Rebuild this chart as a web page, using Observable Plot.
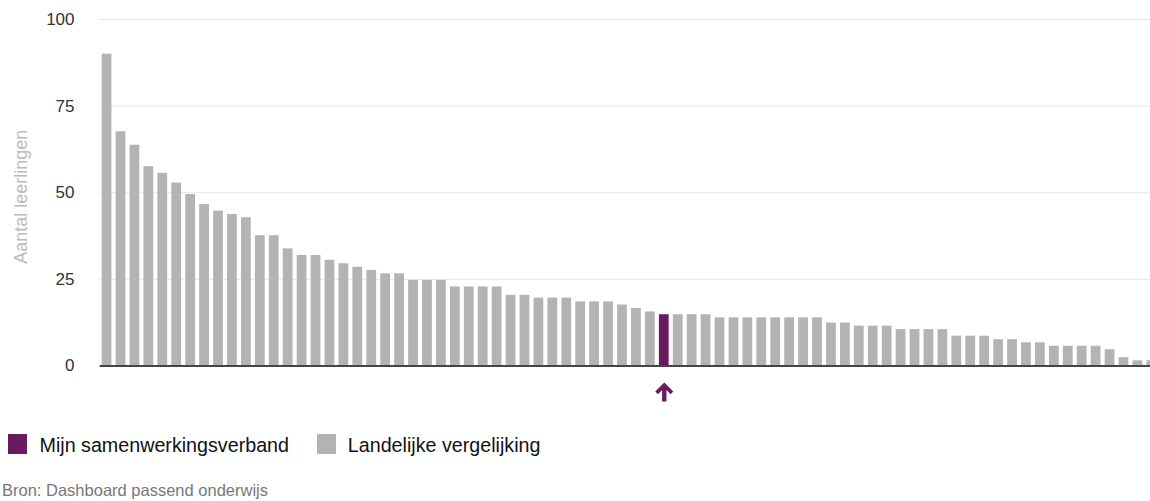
<!DOCTYPE html>
<html>
<head>
<meta charset="utf-8">
<script src="https://cdn.jsdelivr.net/npm/d3@7"></script>
<script src="https://cdn.jsdelivr.net/npm/@observablehq/plot@0.6"></script>
<style>
  html, body { margin: 0; padding: 0; width: 1150px; height: 501px; overflow: hidden; background: #fff; }
  #wrap { position: relative; width: 1150px; height: 501px; font-family: "Liberation Sans", Arial, sans-serif; }
  #chart { position: absolute; left: 0; top: 0; }
  #chart svg { max-width: none; }
  .sw { position: absolute; width: 19px; height: 20px; top: 434px; }
  .lt { position: absolute; top: 435px; font-size: 19.7px; line-height: 20px; color: #111; white-space: nowrap; }
  #caption { position: absolute; left: 2px; top: 482px; font-size: 16.5px; line-height: 16px; color: #777; white-space: nowrap; }
</style>
</head>
<body>
<div id="wrap">
  <div id="chart"></div>
  <div class="sw" style="left:8px; background:#6a1b5f;"></div>
  <div class="lt" style="left:39.5px;">Mijn samenwerkingsverband</div>
  <div class="sw" style="left:316.5px; background:#b3b3b3;"></div>
  <div class="lt" style="left:347.8px;">Landelijke vergelijking</div>
  <div id="caption">Bron: Dashboard passend onderwijs</div>
</div>
<script>
// Data: number of pupils per samenwerkingsverband, sorted descending
const values = [
  90, 67.6, 63.7, 57.5, 55.6, 52.8, 49.5, 46.6, 44.7, 43.7,
  42.8, 37.6, 37.6, 33.8, 31.9, 31.9, 30.5, 29.5, 28.5, 27.6,
  26.6, 26.6, 24.7, 24.7, 24.7, 22.8, 22.8, 22.8, 22.8, 20.4,
  20.4, 19.6, 19.6, 19.6, 18.5, 18.5, 18.5, 17.6, 16.6, 15.6,
  14.8, 14.8, 14.8, 14.8, 13.9, 13.9, 13.9, 13.9, 13.9, 13.9,
  13.9, 13.9, 12.4, 12.4, 11.5, 11.5, 11.5, 10.5, 10.5, 10.5,
  10.5, 8.6, 8.6, 8.6, 7.6, 7.6, 6.7, 6.7, 5.7, 5.7,
  5.7, 5.7, 4.7, 2.4, 1.5, 1.5
];
const mineIndex = 40; // "Mijn samenwerkingsverband"
const yTicks = [0, 25, 50, 75, 100];
const yLabel = "Aantal leerlingen";
const series = ["Mijn samenwerkingsverband", "Landelijke vergelijking"];
const colors = ["#6a1b5f", "#b3b3b3"];

const data = values.map((v, i) => ({i, v, mine: i === mineIndex}));

const arrowSymbol = {
  draw(ctx) {
    ctx.moveTo(0, -9.5);
    ctx.lineTo(9, -0.5);
    ctx.lineTo(6.3, 2.2);
    ctx.lineTo(2.2, -1.9);
    ctx.lineTo(2.2, 9.5);
    ctx.lineTo(-2.2, 9.5);
    ctx.lineTo(-2.2, -1.9);
    ctx.lineTo(-6.3, 2.2);
    ctx.lineTo(-9, -0.5);
    ctx.closePath();
  }
};

const chart = Plot.plot({
  width: 1160,
  height: 410,
  marginLeft: 99.6,
  marginRight: 1.7,
  marginTop: 19,
  marginBottom: 44.5,
  style: {fontFamily: "'Liberation Sans', Arial, sans-serif", fontSize: "17px", color: "#333", background: "transparent", overflow: "visible"},
  x: {type: "band", domain: d3.range(values.length), paddingInner: 0.3, paddingOuter: 0.15, axis: null},
  y: {domain: [0, 100], axis: null},
  marks: [
    Plot.gridY(yTicks.filter(d => d > 0), {stroke: "#e6e6e6", strokeOpacity: 1, strokeWidth: 1}),
    Plot.axisY({ticks: yTicks, tickSize: 0, tickPadding: 25.6, fontSize: 17, fill: "#333", label: null}),
    Plot.text([yLabel], {frameAnchor: "left", textAnchor: "middle", dx: -79, dy: 4, rotate: -90, fontSize: 18, fill: "#bbbbbb"}),
    Plot.barY(data.filter(d => !d.mine), {x: "i", y: "v", fill: colors[1]}),
    Plot.barY(data.filter(d => d.mine), {x: "i", y: "v", fill: colors[0]}),
    Plot.ruleY([0], {stroke: "#444", strokeWidth: 2}),
    Plot.dot(data.filter(d => d.mine), {x: "i", y: 0, dy: 26, symbol: arrowSymbol, r: 5, fill: colors[0], stroke: "none"})
  ]
});
document.getElementById("chart").appendChild(chart);
</script>
</body>
</html>
